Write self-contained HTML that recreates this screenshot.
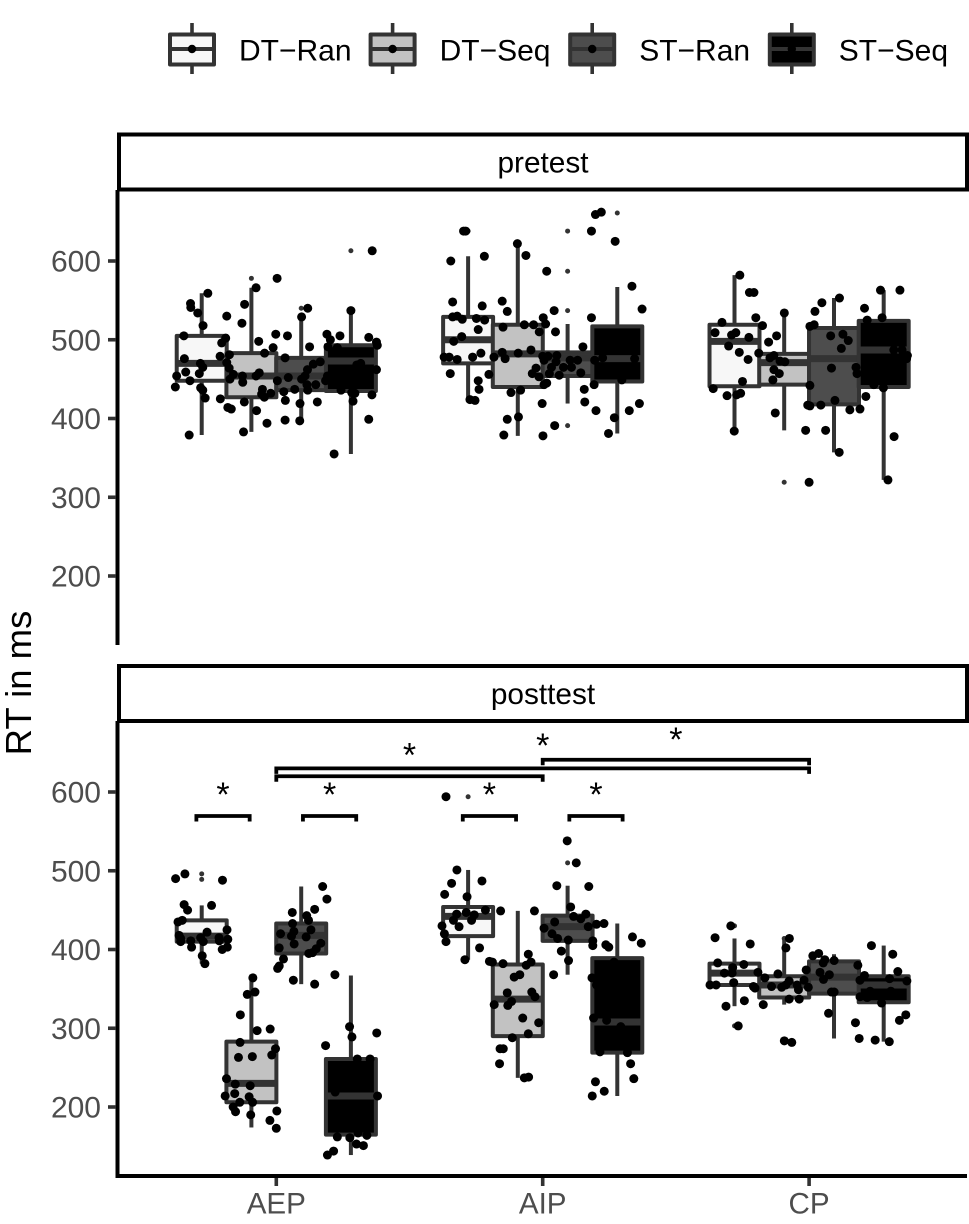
<!DOCTYPE html>
<html lang="en">
<head>
<meta charset="utf-8">
<title>RT boxplots</title>
<style>
html,body{margin:0;padding:0;background:#fff;width:969px;height:1224px;overflow:hidden}
svg{display:block;font-family:"Liberation Sans",Arial,sans-serif}
</style>
</head>
<body>
<svg id="chart" width="969" height="1224" viewBox="0 0 969 1224" xmlns="http://www.w3.org/2000/svg"></svg>
<script>
const categories = ['AEP', 'AIP', 'CP'];
const groups = ['DT-Ran', 'DT-Seq', 'ST-Ran', 'ST-Seq'];
const legendLabels = ['DT\u2212Ran', 'DT\u2212Seq', 'ST\u2212Ran', 'ST\u2212Seq'];
const panelNames = ['pretest', 'posttest'];
const yTicks = [200, 300, 400, 500, 600];

// Box statistics, one row per category, one entry per group
const preLow = [[379, 383, 398, 355], [424, 378, 419, 381], [384, 385, 357, 322]];
const preQ1 = [[448, 427, 436, 435], [470, 440, 454, 447], [441, 443, 418, 440]];
const preMedian = [[470, 454, 454, 473], [500, 482, 477, 476], [498, 471, 476, 487]];
const preQ3 = [[505, 483, 477, 493], [529, 519, 484, 517], [519, 482, 515, 524]];
const preHigh = [[559, 566, 529, 537], [606, 622, 520, 567], [582, 534, 553, 563]];
const postLow = [[382, 174, 356, 139], [387, 237, 368, 214], [328, 330, 287, 283]];
const postQ1 = [[410, 206, 395, 165], [417, 290, 411, 269], [355, 339, 344, 333]];
const postMedian = [[417, 230, 418, 214], [442, 337, 429, 308], [370, 355, 365, 355]];
const postQ3 = [[437, 283, 433, 261], [454, 381, 443, 389], [382, 366, 385, 366]];
const postHigh = [[456, 364, 480, 367], [501, 449, 481, 433], [414, 414, 394, 405]];

// Outliers: category index, group index, RT
const preOutCat = [0, 0, 0, 1, 1, 1, 1, 1, 1, 2];
const preOutGroup = [1, 2, 3, 0, 2, 2, 2, 2, 3, 1];
const preOutRt = [578, 540, 613, 638, 638, 587, 537, 391, 661, 319];
const postOutCat = [0, 0, 1, 1, 2, 2, 2];
const postOutGroup = [0, 0, 0, 2, 0, 0, 1];
const postOutRt = [496, 489, 594, 510, 430, 303, 414];

// Jittered observations: offset from category centre in percent of a category, and RT
const preAepJitter = [-25.7,-32.2,-32.1,-29.5,-18.6,-11.9,-7.6,0.3,36,11.8,9.5,28,-12.9,-27.5,-34.7,-19,-20.5,-6.6,-0.2,4.2,19,20.3,23.9,34.7,37.6,37.9,19.4,22.9,12.5,-1.2,-4.4,-17.6,-21.1,-34.5,3.3,-28.5,-27.6,-18.6,16.5,13.9,11.7,31.7,30.2,37.6,-34,-28.9,-37.4,-17.7,-16.1,-12.7,-6.4,-7.6,-17.4,-12.6,-32.4,-37.9,-28.4,-27.6,4.5,0.4,9.5,10.8,19.2,18.5,14.8,11.5,11.8,6.9,2.8,-5.2,-5.5,-4.5,-2.1,-26.7,-21,24.3,28.3,29.5,35.9,28.8,3.4,-12,8.9,15.4,-18.2,-16.9,-7.4,-3.5,3.3,8.8,34.7,-12.3,-32.7,21.7];
const preAepRt = [559,546,541,534,530,545,566,578,613,540,529,537,521,518,505,502,496,498,507,505,507,500,505,503,497,493,491,490,491,490,483,481,479,476,477,470,465,471,472,469,462,470,468,462,459,457,454,464,456,454,458,454,450,446,448,440,439,436,452,448,450,454,454,448,443,443,436,437,434,437,431,427,432,426,425,436,433,432,430,422,423,421,419,421,414,412,410,394,398,397,399,383,379,355];
const preAipJitter = [-29.7,-28.9,-34.5,-21.9,-9.5,-6.3,1.5,18.3,19.8,22,27.2,33.5,37.3,-33.8,-22.7,-15.2,-13.3,4.3,0.2,18.3,-33.8,-32.1,-30.2,-24.9,-21.8,-24.2,-14.9,-6.9,-3.4,1.1,-1.3,4.8,-30.4,-33.4,15.1,-15.2,-9.2,-4.4,-23.2,-26.3,-18.3,-37,-35.1,-32.1,-14.1,0,2,5.3,0.5,5,10.3,13.1,22.5,19.5,34.5,3.3,7.8,10.8,-2.5,-3.9,-1.4,2.5,6.2,14.3,-20.2,-34.7,-24.2,-23.9,0.5,1.5,19.3,29.7,15.6,-11.9,-8.3,-27.3,-25.4,-0.2,15.8,20,32.5,36.3,-13.3,-9.1,26.9,4.5,-14.6,0.1,24.7];
const preAipRt = [638,638,600,606,622,607,587,638,659,662,625,568,539,548,543,549,536,537,528,528,529,530,526,527,525,513,516,519,519,520,510,510,504,498,491,484,483,487,483,478,478,478,478,475,476,479,479,480,474,472,474,474,477,474,476,465,465,465,464,457,453,457,455,458,456,457,448,437,443,445,443,449,437,433,436,424,423,419,421,410,410,419,399,402,401,391,379,378,381];
const preCpJitter = [-26,-22.4,-20.7,26.8,34.1,11.4,4.8,2.2,-9.3,-20,20.8,27.4,21.8,-32.7,-17.5,0.3,1.9,-35.3,-29.1,-27.5,-22.6,-12.2,-15.2,8.1,12.7,14.7,-30.2,12.1,-26.2,-18.9,-22.9,-14.7,-13.2,-10.9,-9.1,31.8,34.9,36.9,36.6,-13.2,-11.2,-13.6,8.4,17.6,18,-25,0.3,-36,24.3,27.9,-30.8,-27.2,-25.7,21.3,9.7,-0.5,0.3,4.4,15.3,19.1,-12.7,-28.1,-1.3,6.2,31.9,11.3,29.6,0];
const preCpRt = [582,560,560,563,563,553,547,536,534,528,540,528,525,522,518,517,519,509,506,509,503,505,497,505,507,499,492,489,484,483,475,477,480,473,472,487,487,480,476,462,457,449,464,465,457,447,442,438,443,439,429,430,432,428,423,417,416,417,411,412,407,384,385,385,377,357,322,319];
const postAepJitter = [-37.8,-34.3,-20.2,-34.6,-33.3,-24.3,-35.3,-36.9,-18.5,-26,-36.5,-35.9,-35.9,-32.1,-31.8,-28.4,-27.4,-21.5,-21.4,-18.2,-18.4,-20.3,-27.8,-26.8,17.4,19,14.4,6,11.4,12.1,6.1,13,1.6,6.6,5.7,11.2,6.7,16.7,15,1.1,13.6,12.2,2.7,1.1,0.5,6.4,14.4,22,-8.8,-8,-10.9,-13.5,-7.2,-2.3,-13.6,-0.3,-1.7,-9,-14.2,-18.7,-15.4,-9.8,-19.2,-15.6,-10.2,-13.7,-8.9,-16.2,-15.3,-9.6,0.2,-2.4,0,27.5,28.4,37.7,18.5,30.4,35.2,38,22.1,22.9,27.6,34,30.7,30.1,32.7,21.5,19.2];
const postAepRt = [490,496,488,457,450,456,437,435,425,422,418,414,410,411,403,415,410,415,411,413,403,400,392,382,480,464,451,447,443,437,433,425,420,423,417,416,407,408,401,402,396,395,388,379,376,361,356,368,364,346,343,317,297,299,282,274,266,264,263,236,229,227,214,217,213,206,206,200,194,190,195,183,173,302,289,294,278,261,261,214,219,162,161,164,167,153,151,144,139];
const postAipJitter = [-36.3,-32.2,-34.2,-22.8,-36.8,-28.4,-32.3,-28.7,-21.5,-15.8,-25.7,-26.7,-33.5,-31.4,-37.8,-36.9,-36.3,-23.7,-29.2,-3.1,-5.4,-20,-18.9,-14.9,-4.4,-6.2,-8.6,-10.7,-13.3,-4.1,-2.9,-11.7,-13.1,-18.2,-7.5,-1.5,-11.4,-5.4,-14.8,-16,-16.2,-6.9,-5.3,9.2,12.6,5.3,17.3,10.5,11.6,16.2,14.3,4.5,0.5,17.1,20.2,23,3.5,5.6,9.6,18.8,18.8,7,9.7,4.1,33.7,37,23.7,24.8,26.8,18.5,20.2,19.1,24,29.3,21.5,31.8,33,34.2,19.8,23.1,18.6];
const postAipRt = [594,501,484,487,470,467,445,447,450,449,444,437,437,429,430,420,410,402,387,449,394,385,384,382,384,380,368,365,345,346,340,334,329,330,313,307,288,293,274,274,255,237,238,538,510,481,480,454,442,445,439,435,427,429,432,433,420,414,412,411,405,398,386,368,416,408,406,403,384,364,355,313,310,302,270,269,255,236,232,220,214];
const postCpJitter = [-29.4,-26.6,-35.3,-22.1,-7.4,-8.7,-34.3,-24.5,-28.7,-31.8,-28.9,-28.3,-37.2,-34.9,-24.3,-31.2,-19.2,-20.9,-20.3,-16.6,-11.7,-14.1,-10.3,-7.5,-8.7,-1.9,-4.5,-4,-0.3,-7.5,-3.7,-17.2,-9.3,-6.5,1.4,3.6,5.9,5.3,9.4,-1.1,4.1,7.6,5.4,8.4,9.4,7.3,18.3,23.4,31.4,33.3,20.8,19.1,30.2,36.7,22.9,30.7,19.1,21.8,27.2,36.3,33.9,17.4,18.8,24.8,30.1];
const postCpRt = [430,303,415,407,414,402,383,381,377,370,370,358,355,355,335,328,371,353,351,364,369,353,352,360,355,361,355,349,352,337,337,330,284,282,392,395,387,383,386,374,371,368,362,346,346,319,380,405,394,372,367,361,363,360,347,347,340,339,332,317,310,307,287,285,283];

// Significance brackets in axis units (AEP = 1, AIP = 2, CP = 3)
const bracketStart = [0.7, 1.1, 1.7, 2.1, 1, 1, 2];
const bracketEnd = [0.9, 1.3, 1.9, 2.3, 2, 3, 3];
const bracketRt = [569.5, 569.5, 569.5, 569.5, 620, 630, 641];
const starAxisPos = [0.8, 1.2, 1.8, 2.2, 1.5, 2, 2.5];
const starRt = [600, 600, 600, 600, 650, 662, 670];

const fills = ['#f7f7f7', '#c2c2c2', '#4d4d4d', '#000000'];
const LINE = '#333333';
const svg = document.getElementById('chart');
const NS = 'http://www.w3.org/2000/svg';

function make(tag, attrs, parent, txt) {
  const e = document.createElementNS(NS, tag);
  for (const k in attrs) e.setAttribute(k, attrs[k]);
  if (txt !== undefined) e.textContent = txt;
  parent.appendChild(e);
  return e;
}
function xAxis(u) { return 276.3 + (u - 1) * 266.4; }
function yTop(v) { return 261 + (600 - v) * 0.7875; }
function yBottom(v) { return 792 + (600 - v) * 0.7875; }
const dodge = [-0.28, -0.0935, 0.0935, 0.28];
const boxHalf = 0.0938;

const panels = [
  { name: 'pretest', y: yTop, stripY: 134.5, stripH: 55, axisTop: 190, axisBottom: 645,
    low: preLow, q1: preQ1, med: preMedian, q3: preQ3, high: preHigh,
    outCat: preOutCat, outGroup: preOutGroup, outRt: preOutRt,
    jit: [preAepJitter, preAipJitter, preCpJitter], rt: [preAepRt, preAipRt, preCpRt] },
  { name: 'posttest', y: yBottom, stripY: 666, stripH: 55, axisTop: 721, axisBottom: 1177.5,
    low: postLow, q1: postQ1, med: postMedian, q3: postQ3, high: postHigh,
    outCat: postOutCat, outGroup: postOutGroup, outRt: postOutRt,
    jit: [postAepJitter, postAipJitter, postCpJitter], rt: [postAepRt, postAipRt, postCpRt] }
];

panels.forEach(function (p, pi) {
  const g = make('g', {}, svg);
  
  

  const strip = make('rect', { x: 119, y: p.stripY, width: 848, height: p.stripH, fill: '#fff', stroke: '#000', 'stroke-width': 4 }, g);
  
  
  const stripLabel = make('text', { x: 543, y: p.stripY + 38, 'text-anchor': 'middle', 'font-size': 29.8, fill: '#000' }, g, panelNames[pi]);
  
  

  const axis = make('line', { x1: 117.5, x2: 117.5, y1: p.axisTop, y2: p.axisBottom, stroke: '#000', 'stroke-width': 4 }, g);
  
  

  yTicks.forEach(function (t) {
    const tick = make('line', { x1: 108, x2: 116, y1: p.y(t), y2: p.y(t), stroke: LINE, 'stroke-width': 3.6 }, g);
    
    
    const lab = make('text', { x: 101, y: p.y(t) + 10.5, 'text-anchor': 'end', 'font-size': 30, fill: '#4d4d4d' }, g, String(t));
    
    
  });

  categories.forEach(function (cat, ci) {
    groups.forEach(function (gr, gi) {
      const cx = xAxis(ci + 1 + dodge[gi]);
      const hw = boxHalf * 266.4;
      const w1 = make('line', { x1: cx, x2: cx, y1: p.y(p.high[ci][gi]), y2: p.y(p.q3[ci][gi]), stroke: LINE, 'stroke-width': 4 }, g);
      
      
      const w2 = make('line', { x1: cx, x2: cx, y1: p.y(p.q1[ci][gi]), y2: p.y(p.low[ci][gi]), stroke: LINE, 'stroke-width': 4 }, g);
      
      
      const box = make('rect', { x: cx - hw, y: p.y(p.q3[ci][gi]), width: hw * 2, height: p.y(p.q1[ci][gi]) - p.y(p.q3[ci][gi]), fill: fills[gi], stroke: LINE, 'stroke-width': 4, 'stroke-linejoin': 'round' }, g);
      
      
      const med = make('line', { x1: cx - hw, x2: cx + hw, y1: p.y(p.med[ci][gi]), y2: p.y(p.med[ci][gi]), stroke: LINE, 'stroke-width': 7 }, g);
      
      
    });
  });

  p.outRt.forEach(function (v, i) {
    const cx = xAxis(p.outCat[i] + 1 + dodge[p.outGroup[i]]);
    const o = make('circle', { cx: cx, cy: p.y(v), r: 2.5, fill: LINE }, g);
    
    
  });

  categories.forEach(function (cat, ci) {
    p.rt[ci].forEach(function (v, i) {
      const c = make('circle', { cx: xAxis(ci + 1 + p.jit[ci][i] / 100), cy: p.y(v), r: 4.5, fill: '#000' }, g);
      
      
    });
  });
});

// x axis
const xLine = make('line', { x1: 115.5, x2: 967, y1: 1176, y2: 1176, stroke: '#000', 'stroke-width': 4 }, svg);


categories.forEach(function (cat, ci) {
  const x = xAxis(ci + 1);
  const t = make('line', { x1: x, x2: x, y1: 1178, y2: 1186, stroke: LINE, 'stroke-width': 3.6 }, svg);
  
  
  const l = make('text', { x: x, y: 1213.5, 'text-anchor': 'middle', 'font-size': 29.6, fill: '#4d4d4d' }, svg, cat);
  
  
});

// significance brackets
bracketRt.forEach(function (v, i) {
  const y = yBottom(v);
  const x1 = xAxis(bracketStart[i]), x2 = xAxis(bracketEnd[i]);
  const b = make('path', { d: 'M' + x1 + ' ' + (y + 5.5) + 'V' + y + 'H' + x2 + 'V' + (y + 5.5), fill: 'none', stroke: '#000', 'stroke-width': 3.8 }, svg);
  
  
});
starRt.forEach(function (v, i) {
  const s = make('text', { x: xAxis(starAxisPos[i]), y: yBottom(v) + 14, 'text-anchor': 'middle', 'font-size': 34, fill: '#000' }, svg, '*');
  
  
});

// y axis title
const yTitle = make('text', { transform: 'translate(31,683) rotate(-90)', 'text-anchor': 'middle', 'font-size': 36.5, fill: '#000' }, svg, 'RT in ms');



// legend
const legendAxisPos = [0, 1, 2, 3];
legendAxisPos.forEach(function (n) {
  const cx = 192 + n * 199.6 + (n > 0 ? 1 : 0);
  const lg = make('g', {}, svg);
  
  
  make('line', { x1: cx, x2: cx, y1: 23, y2: 34, stroke: LINE, 'stroke-width': 3.6 }, lg);
  make('line', { x1: cx, x2: cx, y1: 64, y2: 74, stroke: LINE, 'stroke-width': 3.6 }, lg);
  make('rect', { x: cx - 22, y: 34.5, width: 44, height: 30, fill: fills[n], stroke: LINE, 'stroke-width': 4, 'stroke-linejoin': 'round' }, lg);
  make('line', { x1: cx - 22, x2: cx + 22, y1: 49, y2: 49, stroke: LINE, 'stroke-width': 4 }, lg);
  make('circle', { cx: cx, cy: 49, r: 4.2, fill: '#000' }, lg);
  make('text', { x: cx + 47, y: 60.5, 'font-size': 30, fill: '#000' }, lg, legendLabels[n]);
});
</script>
</body>
</html>
